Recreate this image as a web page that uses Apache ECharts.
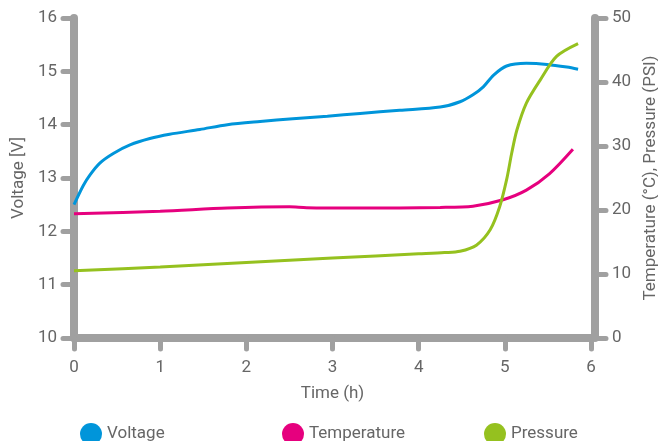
<!DOCTYPE html>
<html><head><meta charset="utf-8">
<script src="https://cdn.jsdelivr.net/npm/echarts@6/dist/echarts.min.js"></script>
<style>html,body{margin:0;padding:0;background:#fff}#c{width:658px;height:441px}</style>
</head><body><div id="c"></div>
<script>
const xTicks = [0,1,2,3,4,5,6];
const voltageTime = [0,0.108,0.186,0.3,0.456,0.65,0.88,1.11,1.46,1.78,2.16,2.54,2.94,3.32,3.78,4.25,4.48,4.63,4.75,4.87,5.02,5.25,5.49,5.72,5.85];
const voltage     = [12.5,12.86,13.06,13.28,13.46,13.62,13.74,13.82,13.91,14.0,14.06,14.11,14.16,14.21,14.27,14.33,14.43,14.56,14.71,14.93,15.1,15.15,15.13,15.08,15.04];
const tempTime = [0,1.0,1.78,2.5,2.7,3.3,4.25,4.63,4.98,5.25,5.52,5.79];
const temperature = [19.4,19.8,20.3,20.5,20.35,20.3,20.4,20.6,21.6,23.1,25.7,29.5];
const presTime = [0,1,2,3,4,4.3,4.48,4.67,4.83,4.94,5.02,5.08,5.14,5.25,5.41,5.6,5.85];
const pressure = [10.5,11.1,11.8,12.5,13.15,13.35,13.55,14.5,16.9,20.5,24.7,28.9,32.5,36.7,40.3,44.0,46.0];

const gray = '#a0a0a0', txt = '#666666', font = 'Roboto';
const zip = (a,b) => a.map((v,i)=>[v,b[i]]);
const chart = echarts.init(document.getElementById('c'), null, {renderer:'canvas'});
const legendBase = {top: 423, icon:'circle', itemWidth:22, itemHeight:22, itemGap:0, padding:0,
  textStyle:{color:txt, fontSize:17, fontFamily:font}};
chart.setOption({
  animation:false,
  grid:{left:74, right:67, top:18, bottom:103, containLabel:false, outerBoundsMode:'none'},
  legend:[
    Object.assign({}, legendBase, {data:['Voltage'], left:80}),
    Object.assign({}, legendBase, {data:['Temperature'], left:282}),
    Object.assign({}, legendBase, {data:['Pressure'], left:484})
  ],
  xAxis:{type:'value', min:0, max:6, interval:1,
    name:'Time (h)', nameLocation:'middle', nameGap:47,
    nameTextStyle:{color:txt, fontSize:17, fontFamily:font},
    axisLine:{lineStyle:{color:gray, width:8, cap:'round'}},
    axisTick:{length:11, lineStyle:{color:gray, width:5, cap:'round'}},
    axisLabel:{color:txt, fontSize:17, fontFamily:font, margin:21},
    splitLine:{show:false}},
  yAxis:[
    {type:'value', min:10, max:16, interval:1, position:'left',
     name:'Voltage [V]', nameLocation:'middle', nameGap:36,
     nameTextStyle:{color:txt, fontSize:17, fontFamily:font},
     axisLine:{show:true, lineStyle:{color:gray, width:8, cap:'round'}},
     axisTick:{show:true, length:11, lineStyle:{color:gray, width:5, cap:'round'}},
     axisLabel:{color:txt, fontSize:17, fontFamily:font, margin:17},
     splitLine:{show:false}},
    {type:'value', min:0, max:50, interval:10, position:'right', offset:4,
     name:'Temperature (°C), Pressure (PSI)', nameLocation:'middle', nameGap:45,
     nameTextStyle:{color:txt, fontSize:17, fontFamily:font},
     axisLine:{show:true, lineStyle:{color:gray, width:8, cap:'round'}},
     axisTick:{show:true, length:11, lineStyle:{color:gray, width:5, cap:'round'}},
     axisLabel:{color:txt, fontSize:17, fontFamily:font, margin:17},
     splitLine:{show:false}}
  ],
  series:[
    {name:'Voltage', type:'line', yAxisIndex:0, smooth:0.3, showSymbol:false,
     data:zip(voltageTime, voltage), color:'#0095da', lineStyle:{width:3}},
    {name:'Temperature', type:'line', yAxisIndex:1, smooth:0.3, showSymbol:false,
     data:zip(tempTime, temperature), color:'#e6007e', lineStyle:{width:3}},
    {name:'Pressure', type:'line', yAxisIndex:1, smooth:0.3, showSymbol:false,
     data:zip(presTime, pressure), color:'#95c11f', lineStyle:{width:3}}
  ]
});
</script></body></html>
